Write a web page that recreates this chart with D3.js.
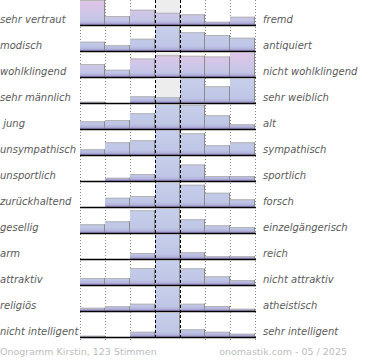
<!DOCTYPE html>
<html><head><meta charset="utf-8">
<script src="https://cdn.jsdelivr.net/npm/d3@7"></script>
<style>
html,body{margin:0;padding:0;background:#fff;}
svg{display:block;font-family:"DejaVu Sans",sans-serif;}
</style></head><body>
<div id="chart"></div>
<script>
// Left / right adjective pairs
const leftLabels = ["sehr vertraut","modisch","wohlklingend","sehr männlich"," jung","unsympathisch","unsportlich","zurückhaltend","gesellig","arm","attraktiv","religiös","nicht intelligent"];
const rightLabels = ["fremd","antiquiert","nicht wohlklingend","sehr weiblich","alt","sympathisch","sportlich","forsch","einzelgängerisch","reich","nicht attraktiv","atheistisch","sehr intelligent"];
// relative vote share per scale step (7 steps), per row
const row1  = [100, 36, 61, 49, 43, 13, 33];
const row2  = [37, 23, 49, 100, 75, 64, 53];
const row3  = [52, 29, 74, 87, 85, 82, 100];
const row4  = [5, 0, 27, 23, 100, 67, 100];
const row5  = [31, 36, 63, 100, 97, 55, 19];
const row6  = [23, 51, 59, 100, 87, 39, 51];
const row7  = [0, 13, 28, 100, 66, 20, 20];
const row8  = [0, 37, 44, 100, 89, 57, 31];
const row9  = [35, 47, 91, 100, 55, 31, 24];
const row10 = [0, 0, 24, 100, 27, 11, 11];
const row11 = [28, 28, 68, 100, 67, 35, 20];
const row12 = [13, 19, 29, 100, 29, 20, 9];
const row13 = [5, 0, 21, 100, 31, 21, 13];
const rows = [row1,row2,row3,row4,row5,row6,row7,row8,row9,row10,row11,row12,row13];
const pinkRows = [0, 2];
const steps = [1,2,3,4,5,6,7];
const footerLeft = "Onogramm Kirstin, 123 Stimmen";
const footerRight = "onomastik.com - 05 / 2025";

const W = 370, H = 360;
const svg = d3.select("#chart").append("svg").attr("width", W).attr("height", H);

const x = d3.scaleBand().domain(steps).range([80, 255]).padding(0);
const rowY = d3.scaleBand().domain(d3.range(rows.length)).range([-1, 337]).padding(0);
const barH = 25;

const defs = svg.append("defs");
function grad(id, stops){
  const g = defs.append("linearGradient").attr("id", id)
    .attr("gradientUnits","userSpaceOnUse").attr("x1",0).attr("x2",0).attr("y1",-barH).attr("y2",0);
  stops.forEach(s => g.append("stop").attr("offset", s[0]).attr("stop-color", s[1]));
}
grad("gBlue", [[0,"#c6cfeb"],[0.8,"#bfc6e6"],[0.9,"#b5b6de"],[1,"#9a89c2"]]);
grad("gPink", [[0,"#e0c6e6"],[0.45,"#d2c6e8"],[0.82,"#c3c5e6"],[0.9,"#b5b4de"],[1,"#9a89c2"]]);

// background dotted grid lines
[80,105,130,205,230,255].forEach(v => {
  svg.append("line").attr("x1", v+0.5).attr("x2", v+0.5).attr("y1", 0).attr("y2", 340)
    .attr("stroke", "#8a8a8a").attr("stroke-width", 1).attr("stroke-dasharray", "1,2");
});

rows.forEach((vals, i) => {
  const base = rowY(i) + rowY.bandwidth();
  const g = svg.append("g").attr("transform", `translate(0,${base})`);
  const y = d3.scaleLinear().domain([0, d3.max(vals)]).range([0, -barH]);
  // center column background
  g.append("rect").attr("x", x(4)).attr("y", -barH).attr("width", x.bandwidth()).attr("height", barH)
    .attr("fill", "#ededed");
  const fill = pinkRows.includes(i) ? "url(#gPink)" : "url(#gBlue)";
  steps.forEach((s, j) => {
    const v = vals[j];
    if (v <= 0) return;
    const top = y(v);
    g.append("rect").attr("x", x(s)).attr("y", top).attr("width", x.bandwidth()).attr("height", -top)
      .attr("fill", fill);
    // top edge
    g.append("line").attr("x1", x(s)).attr("x2", x(s)+x.bandwidth()).attr("y1", top+0.5).attr("y2", top+0.5)
      .attr("stroke", "#b4b4b4").attr("stroke-width", 1);
    // right edge
    g.append("line").attr("x1", x(s)+x.bandwidth()-0.5).attr("x2", x(s)+x.bandwidth()-0.5).attr("y1", top).attr("y2", 0)
      .attr("stroke", "#8c8c8c").attr("stroke-width", 1);
  });
  // baseline
  g.append("line").attr("x1", 80).attr("x2", 256).attr("y1", 0.5).attr("y2", 0.5)
    .attr("stroke", "#000").attr("stroke-width", 1.5);
  // labels
  g.append("text").attr("x", 0).attr("y", -2).attr("font-size", 10).attr("font-style", "italic")
    .attr("fill", "#5a5a5a").attr("xml:space","preserve").style("white-space","pre").text(leftLabels[i]);
  g.append("text").attr("x", 263).attr("y", -2).attr("font-size", 10).attr("font-style", "italic")
    .attr("fill", "#5a5a5a").text(rightLabels[i]);
});

// center dashed lines
[155,180].forEach(v => {
  svg.append("line").attr("x1", v+0.5).attr("x2", v+0.5).attr("y1", 0).attr("y2", 340)
    .attr("stroke", "#000").attr("stroke-width", 1).attr("stroke-dasharray", "3,2");
});

svg.append("text").attr("x", 0).attr("y", 355).attr("font-size", 9.5).attr("fill", "#bdbdbd").text(footerLeft);
svg.append("text").attr("x", 347).attr("y", 355).attr("text-anchor","end").attr("font-size", 9.5).attr("fill", "#bdbdbd").text(footerRight);
</script>
</body></html>
